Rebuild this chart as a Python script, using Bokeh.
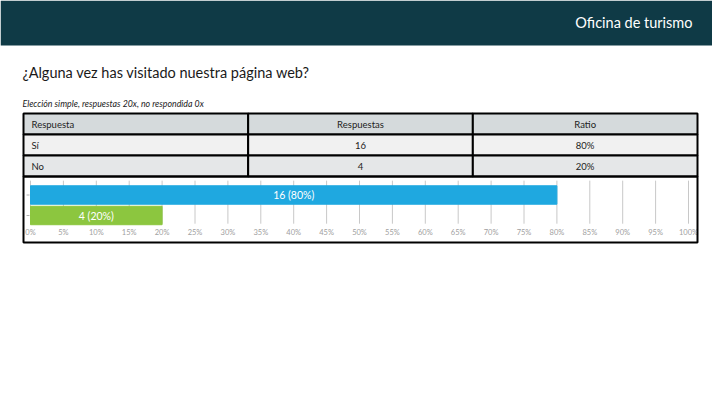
from bokeh.plotting import figure
from bokeh.models import Range1d, ColumnDataSource
from bokeh.core.properties import value
from bokeh.embed import file_html
from bokeh.resources import INLINE

FONT = "Lato"

# Datos de la encuesta
cabecera = "Oficina de turismo"
pregunta = "¿Alguna vez has visitado nuestra página web?"
detalle = "Elección simple, respuestas 20x, no respondida 0x"
columnas = ["Respuesta", "Respuestas", "Ratio"]
respuestas = ["Sí", "No"]
conteos = [16, 4]
ratios = [80, 20]
colores = ["#1fa8e0", "#8cc63f"]
ticks_pct = [0, 5, 10, 15, 20, 25, 30, 35, 40, 45, 50, 55, 60, 65, 70, 75, 80, 85, 90, 95, 100]

# Geometria de la pagina en pixeles
W, H = 712, 397
X0, X100 = 30, 688          # 0% y 100% del eje de barras
Y_FILA0, PASO = 194.5, 20.5  # centro de la primera barra y paso entre barras
PX = (X100 - X0) / 100.0

p = figure(width=W, height=H, x_range=Range1d(0, W), y_range=Range1d(H, 0),
           x_axis_location=None, y_axis_location=None, toolbar_location=None,
           output_backend="svg", min_border=0, outline_line_color=None)
p.grid.visible = False
p.extra_x_ranges = {"pct": Range1d(-X0 / PX, (W - X0) / PX)}
p.extra_y_ranges = {"fila": Range1d((H - Y_FILA0) / PASO, -Y_FILA0 / PASO)}

# Cabecera oscura
p.quad(left=[0], right=[W], top=[0], bottom=[45], fill_color="#0f3a46", line_color=None)
p.text(x=[692], y=[22], text=[cabecera], text_align="right", text_baseline="middle",
       text_color="white", text_font=value(FONT), text_font_size="14.5px")

# Pregunta y detalle
p.text(x=[22], y=[72], text=[pregunta], text_align="left", text_baseline="middle",
       text_color="#1a1a1a", text_font=value(FONT), text_font_size="14.5px")
p.text(x=[22], y=[103], text=[detalle], text_align="left", text_baseline="middle",
       text_color="#1a1a1a", text_font=value(FONT), text_font_size="8.8px",
       text_font_style="italic")

# Tabla
T_IZQ, T_DER, T_SUP, T_FILA = 23, 697, 113, 21
ancho_col = (T_DER - T_IZQ) / len(columnas)
filas = [columnas] + [[r, str(c), f"{q}%"] for r, c, q in zip(respuestas, conteos, ratios)]
fondos = ["#d5dadc", "#f1f1f1", "#e5e7e8"]
cel = dict(l=[], r=[], t=[], b=[], fill=[])
izq = dict(x=[], y=[], text=[])
cen = dict(x=[], y=[], text=[])
for i, fila in enumerate(filas):
    for j, txt in enumerate(fila):
        l = T_IZQ + j * ancho_col
        t = T_SUP + i * T_FILA
        cel["l"].append(l)
        cel["r"].append(l + ancho_col)
        cel["t"].append(t)
        cel["b"].append(t + T_FILA)
        cel["fill"].append(fondos[i])
        if j == 0:
            izq["x"].append(l + 8)
            izq["y"].append(t + T_FILA / 2)
            izq["text"].append(txt)
        else:
            cen["x"].append(l + ancho_col / 2)
            cen["y"].append(t + T_FILA / 2)
            cen["text"].append(txt)
p.quad(left="l", right="r", top="t", bottom="b", fill_color="fill", line_color="black",
       line_width=2, source=ColumnDataSource(cel))
p.text(x="x", y="y", text="text", source=ColumnDataSource(izq), text_align="left",
       text_baseline="middle", text_color="#222222", text_font=value(FONT),
       text_font_size="9.5px")
p.text(x="x", y="y", text="text", source=ColumnDataSource(cen), text_align="center",
       text_baseline="middle", text_color="#222222", text_font=value(FONT),
       text_font_size="9.5px")

# Barras horizontales
idx = list(range(len(respuestas)))
fuente = ColumnDataSource(dict(y=idx, pct=ratios, color=colores,
                               mitad=[r / 2 for r in ratios],
                               etiqueta=[f"{c} ({r}%)" for c, r in zip(conteos, ratios)]))

# lineas de cuadricula
p.segment(x0=ticks_pct, x1=ticks_pct, y0=[-0.7] * len(ticks_pct), y1=[1.4] * len(ticks_pct),
          x_range_name="pct", y_range_name="fila", line_color="#c8c8c8", line_width=1)
p.hbar(y="y", left=0, right="pct", height=0.9, color="color", source=fuente,
       x_range_name="pct", y_range_name="fila")
p.text(x="mitad", y="y", text="etiqueta", source=fuente, text_align="center",
       text_baseline="middle", text_color="white", text_font=value(FONT),
       text_font_size="10.5px", x_range_name="pct", y_range_name="fila")

# marcas del eje de categorias
p.segment(x0=[-0.6] * len(idx), x1=[-0.15] * len(idx), y0=idx, y1=idx,
          x_range_name="pct", y_range_name="fila", line_color="#b0b0b0", line_width=1)

# etiquetas del eje de porcentaje
p.text(x=ticks_pct, y=[1.83] * len(ticks_pct), text=[f"{t}%" for t in ticks_pct],
       x_range_name="pct", y_range_name="fila", text_align="center", text_baseline="middle",
       text_color="#a0a0a0", text_font=value(FONT), text_font_size="7.5px")

# marco del bloque del grafico
p.quad(left=[23], right=[697], top=[176], bottom=[242], fill_color=None,
       line_color="black", line_width=2)

open("out.html", "w").write(file_html(p, INLINE))
